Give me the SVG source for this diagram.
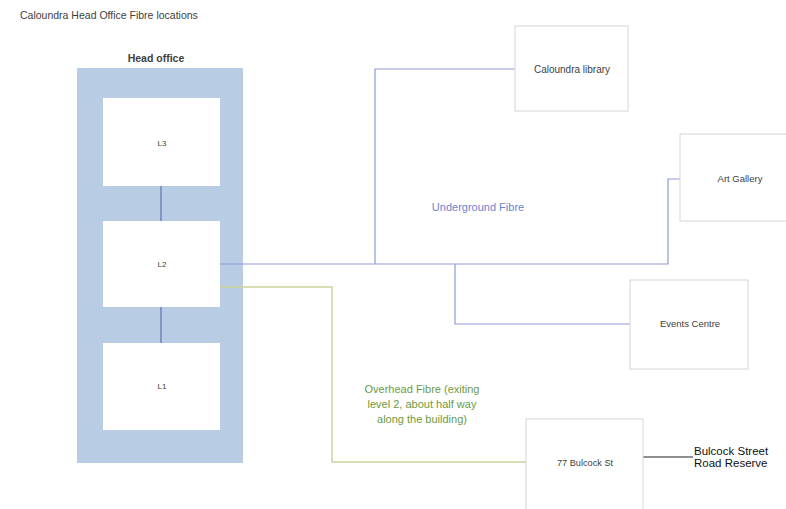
<svg xmlns="http://www.w3.org/2000/svg" width="786" height="509" viewBox="0 0 786 509">
<style>
text{font-family:"Liberation Sans",Arial,sans-serif;fill:#404040}
.box{fill:#ffffff;stroke:#d6d6d6;stroke-width:1}
.lvl{fill:#ffffff;stroke:none}
.lbl{font-size:9.5px;text-anchor:middle}
.ug{fill:none;stroke:#8e9ad6;stroke-width:1.2}
.oh{fill:none;stroke:#cbd39a;stroke-width:1.5}
.st{fill:none;stroke:#7f98c6;stroke-width:2}
.ohT{fill:#6e9a3e}
</style>
<rect width="786" height="509" fill="#ffffff"/>
<text x="20" y="19" style="font-size:10.5px">Caloundra Head Office Fibre locations</text>
<g id="head-office">
<text x="156" y="62" style="font-size:10.5px;font-weight:bold;text-anchor:middle">Head office</text>
<rect x="77" y="68" width="166" height="395" fill="#b8cce4"/>
</g>
<g id="connectors">
<line class="st" x1="161" y1="186" x2="161" y2="221"/>
<line class="st" x1="161" y1="307" x2="161" y2="343"/>
<polyline class="ug" points="220,264 668,264 668,179 680,179"/>
<polyline class="ug" points="375,264 375,69 515,69"/>
<polyline class="ug" points="455,264 455,324 630,324"/>
<polyline class="oh" points="220,287 332,287 332,462 526,462"/>
<line x1="643" y1="457" x2="693" y2="457" stroke="#222" stroke-width="1.2"/>
</g>
<g id="L3"><rect class="lvl" x="103" y="98" width="117" height="88"/><text class="lbl" x="162" y="146" style="font-size:8px">L3</text></g>
<g id="L2"><rect class="lvl" x="103" y="221" width="117" height="86"/><text class="lbl" x="162" y="267" style="font-size:8px">L2</text></g>
<g id="L1"><rect class="lvl" x="103" y="343" width="117" height="87"/><text class="lbl" x="162" y="389" style="font-size:8px">L1</text></g>
<g id="library"><rect class="box" x="515" y="26" width="113" height="85"/><text class="lbl" x="572" y="73" style="font-size:10px">Caloundra library</text></g>
<g id="art-gallery"><rect class="box" x="680" y="134" width="120" height="87"/><text class="lbl" x="740" y="182">Art Gallery</text></g>
<g id="events-centre"><rect class="box" x="630" y="280" width="118" height="89"/><text class="lbl" x="690" y="327">Events Centre</text></g>
<g id="bulcock"><rect class="box" x="526" y="419" width="117" height="100"/><text class="lbl" x="585" y="466" style="font-size:9.2px">77 Bulcock St</text></g>
<g id="road-reserve">
<text x="694" y="455" style="font-size:11.5px;fill:#111">Bulcock Street</text>
<text x="694" y="467" style="font-size:11.5px;fill:#111">Road Reserve</text>
</g>
<text x="478" y="211" style="font-size:11px;fill:#6b84d0;text-anchor:middle">Underground Fibre</text>
<g style="font-size:11px;text-anchor:middle">
<text class="ohT" x="422" y="393">Overhead Fibre (exiting</text>
<text class="ohT" x="422" y="408">level 2, about half way</text>
<text class="ohT" x="422" y="423">along the building)</text>
</g>
</svg>
